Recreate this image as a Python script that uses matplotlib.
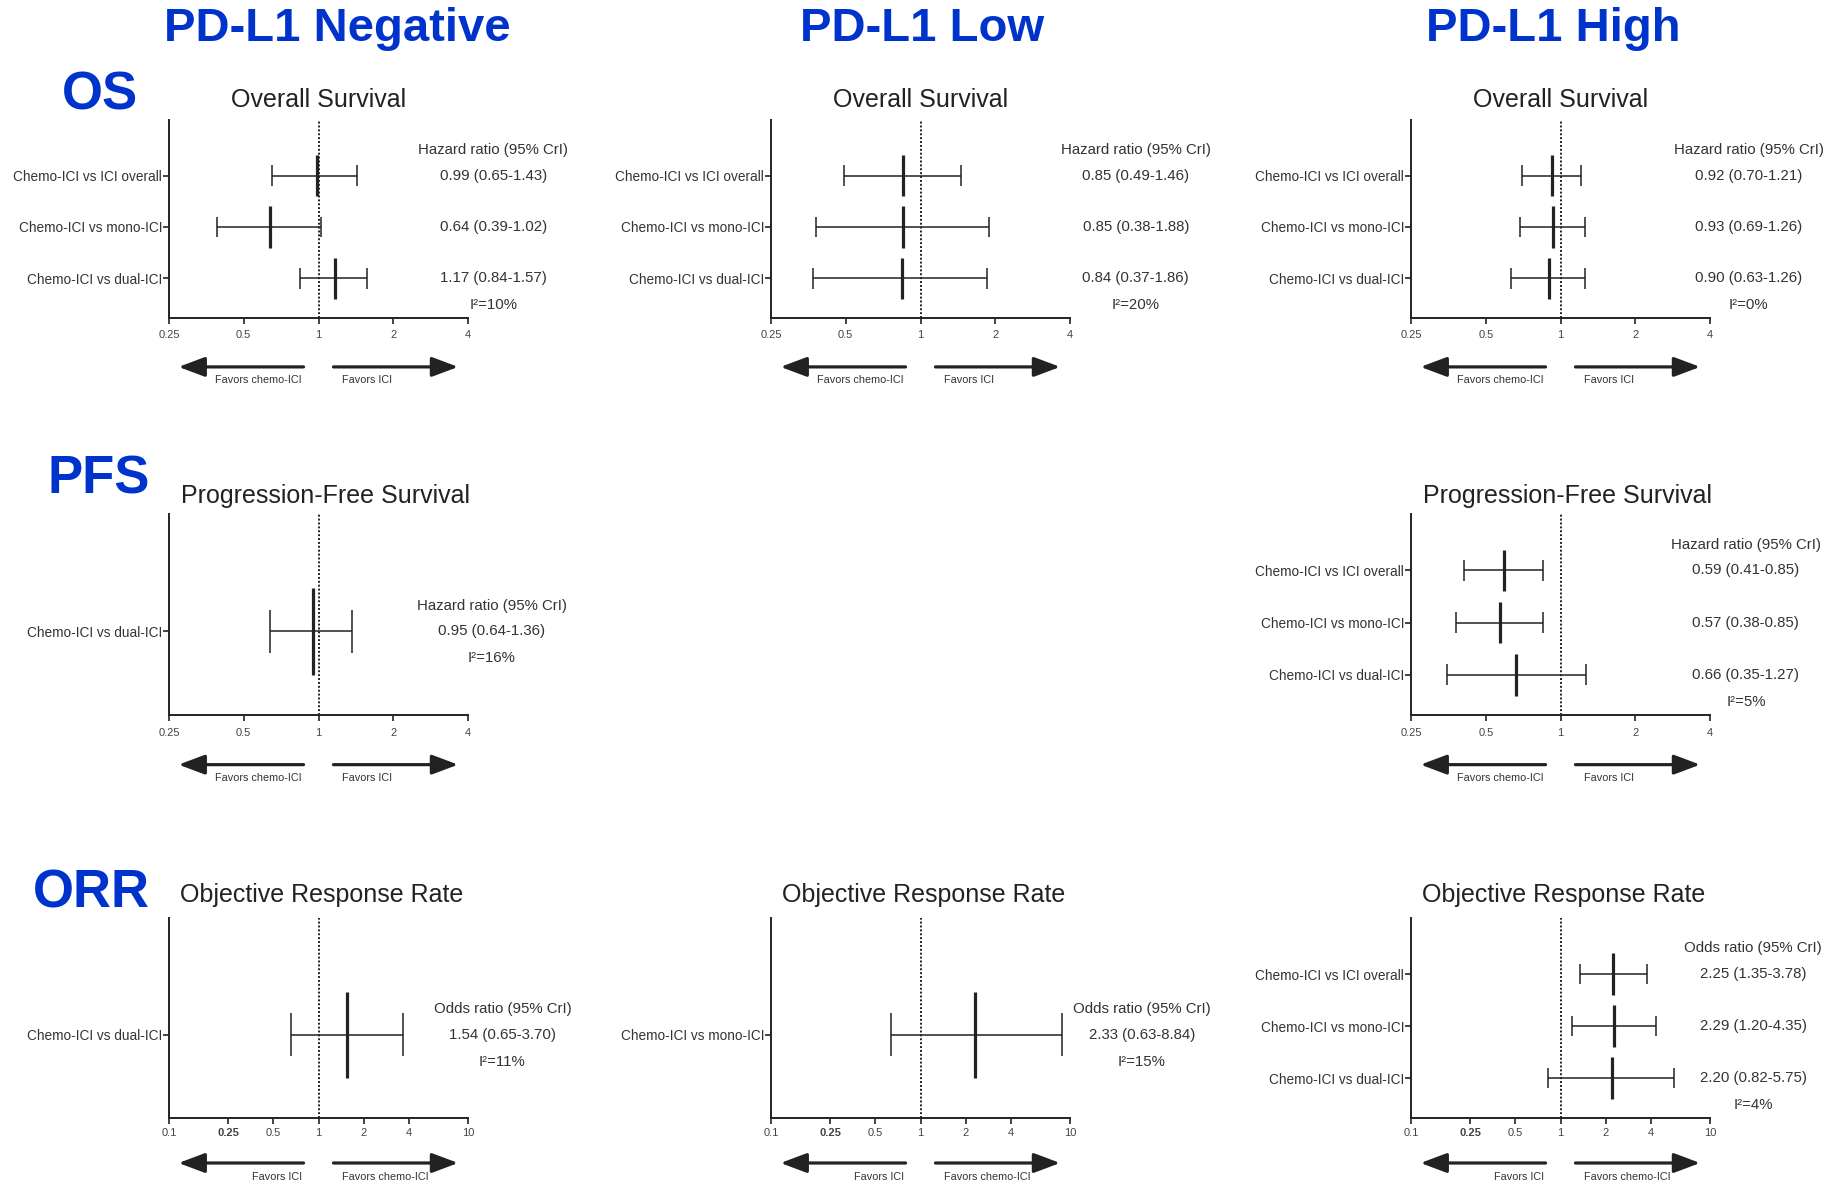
import numpy as np
import matplotlib
matplotlib.use("Agg")
import matplotlib.pyplot as plt

plt.rcParams["font.family"] = ["Liberation Sans", "DejaVu Sans"]

# comparisons
overall = "Chemo-ICI vs ICI overall"
mono = "Chemo-ICI vs mono-ICI"
dual = "Chemo-ICI vs dual-ICI"

groups = ["PD-L1 Negative", "PD-L1 Low", "PD-L1 High"]
endpoints = ["OS", "PFS", "ORR"]
titles = ["Overall Survival", "Progression-Free Survival", "Objective Response Rate"]

# overall survival (hazard ratios)
os_neg_labels = [overall, mono, dual]
os_neg_est = [0.99, 0.64, 1.17]
os_neg_lo = [0.65, 0.39, 0.84]
os_neg_hi = [1.43, 1.02, 1.57]
os_neg_i2 = 10

os_low_labels = [overall, mono, dual]
os_low_est = [0.85, 0.85, 0.84]
os_low_lo = [0.49, 0.38, 0.37]
os_low_hi = [1.46, 1.88, 1.86]
os_low_i2 = 20

os_high_labels = [overall, mono, dual]
os_high_est = [0.92, 0.93, 0.90]
os_high_lo = [0.70, 0.69, 0.63]
os_high_hi = [1.21, 1.26, 1.26]
os_high_i2 = 0

# progression-free survival (hazard ratios)
pfs_neg_labels = [dual]
pfs_neg_est = [0.95]
pfs_neg_lo = [0.64]
pfs_neg_hi = [1.36]
pfs_neg_i2 = 16

pfs_high_labels = [overall, mono, dual]
pfs_high_est = [0.59, 0.57, 0.66]
pfs_high_lo = [0.41, 0.38, 0.35]
pfs_high_hi = [0.85, 0.85, 1.27]
pfs_high_i2 = 5

# objective response rate (odds ratios)
orr_neg_labels = [dual]
orr_neg_est = [1.54]
orr_neg_lo = [0.65]
orr_neg_hi = [3.70]
orr_neg_i2 = 11

orr_low_labels = [mono]
orr_low_est = [2.33]
orr_low_lo = [0.63]
orr_low_hi = [8.84]
orr_low_i2 = 15

orr_high_labels = [overall, mono, dual]
orr_high_est = [2.25, 2.29, 2.20]
orr_high_lo = [1.35, 1.20, 0.82]
orr_high_hi = [3.78, 4.35, 5.75]
orr_high_i2 = 4

hr_ticks = [0.25, 0.5, 1, 2, 4]
hr_ticklabels = ["0.25", "0.5", "1", "2", "4"]
or_ticks = [0.1, 0.25, 0.5, 1, 2, 4, 10]
or_ticklabels = ["0.1", "0.25", "0.5", "1", "2", "4", "10"]

ink = "#222222"
blue = "#0033cc"

W, H = 1835, 1185
fig = plt.figure(figsize=(W / 100, H / 100), dpi=100)

col_left = [169, 771, 1411]
ax_w = 299
row_top = [120, 514, 918]
ax_h = [198, 201, 200]
title_pad = [9.5, 8, 11.5]
title_x = [0.5, 0.522, 0.51]
xtick_pad = [5, 5, 3.5]


def forest(ax, labels, est, lo, hi, i2, ratio, text_x):
    rows = np.arange(len(labels))
    ax.axvline(1, color=ink, lw=1.4, ls=(0, (1, 1)), zorder=1)
    ax.hlines(rows, lo, hi, color=ink, lw=1.1, zorder=2)
    ax.vlines(lo, rows - 0.2, rows + 0.2, color=ink, lw=1.1, zorder=2)
    ax.vlines(hi, rows - 0.2, rows + 0.2, color=ink, lw=1.1, zorder=2)
    ax.vlines(est, rows - 0.4, rows + 0.4, color=ink, lw=2.3, zorder=3)
    ax.set_ylim(len(labels) - 1 + 0.77, -1.08)
    ax.set_yticks(rows)
    ax.set_yticklabels(labels, fontsize=9.8, color="#333333")

    tr = ax.get_yaxis_transform()
    for r, e, l, h in zip(rows, est, lo, hi):
        ax.text(text_x, r, f"{e:.2f} ({l:.2f}-{h:.2f})", transform=tr,
                ha="center", va="center", fontsize=10.8, color="#333333")
    ax.annotate(f"{ratio} ratio (95% CrI)", xy=(text_x, rows[0]), xycoords=tr,
                xytext=(0, 18.5), textcoords="offset points",
                ha="center", va="center", fontsize=10.8, color="#333333",
                annotation_clip=False)
    ax.annotate(f"I²={i2}%", xy=(text_x, rows[-1]), xycoords=tr,
                xytext=(0, -19.5), textcoords="offset points",
                ha="center", va="center", fontsize=10.8, color="#333333",
                annotation_clip=False)

    for s in ["top", "right"]:
        ax.spines[s].set_visible(False)
    for s in ["left", "bottom"]:
        ax.spines[s].set_linewidth(1.4)
        ax.spines[s].set_color(ink)
    ax.tick_params(axis="y", length=4, width=1.2, color=ink, pad=1)
    ax.tick_params(axis="x", length=4, width=1.2, color=ink,
                   labelsize=8, labelcolor="#444444")


def favors(ax, left_txt, right_txt, y):
    style = "-|>,head_length=1.6,head_width=0.6"
    for tail, tip in [(0.45, 0.032), (0.55, 0.967)]:
        ax.annotate("", xy=(tip, y), xytext=(tail, y), xycoords="axes fraction",
                    arrowprops=dict(arrowstyle=style, lw=2.3, color=ink,
                                    shrinkA=0, shrinkB=0, mutation_scale=10),
                    annotation_clip=False)
    ax.text(0.445, y - 0.068, left_txt, transform=ax.transAxes,
            ha="right", va="center", fontsize=7.8, color="#333333")
    ax.text(0.58, y - 0.068, right_txt, transform=ax.transAxes,
            ha="left", va="center", fontsize=7.8, color="#333333")


panels = [
    (0, 0, os_neg_labels, os_neg_est, os_neg_lo, os_neg_hi, os_neg_i2, 1.085),
    (0, 1, os_low_labels, os_low_est, os_low_lo, os_low_hi, os_low_i2, 1.22),
    (0, 2, os_high_labels, os_high_est, os_high_lo, os_high_hi, os_high_i2, 1.13),
    (1, 0, pfs_neg_labels, pfs_neg_est, pfs_neg_lo, pfs_neg_hi, pfs_neg_i2, 1.08),
    (1, 2, pfs_high_labels, pfs_high_est, pfs_high_lo, pfs_high_hi, pfs_high_i2, 1.12),
    (2, 0, orr_neg_labels, orr_neg_est, orr_neg_lo, orr_neg_hi, orr_neg_i2, 1.115),
    (2, 1, orr_low_labels, orr_low_est, orr_low_lo, orr_low_hi, orr_low_i2, 1.24),
    (2, 2, orr_high_labels, orr_high_est, orr_high_lo, orr_high_hi, orr_high_i2, 1.145),
]

for r, c, labels, est, lo, hi, i2, tx in panels:
    left = col_left[c]
    top = row_top[r]
    h = ax_h[r]
    ax = fig.add_axes([left / W, 1 - (top + h) / H, ax_w / W, h / H])
    if r < 2:
        ax.set_xscale("log", base=2)
        ax.set_xlim(0.25, 4)
        ax.set_xticks(hr_ticks)
        ax.set_xticklabels(hr_ticklabels)
        ax.xaxis.set_minor_locator(matplotlib.ticker.NullLocator())
        forest(ax, labels, est, lo, hi, i2, "Hazard", tx)
        favors(ax, "Favors chemo-ICI", "Favors ICI", -0.247)
    else:
        ax.set_xscale("log")
        ax.set_xlim(0.1, 10)
        ax.set_xticks(or_ticks)
        ax.set_xticklabels(or_ticklabels)
        ax.xaxis.set_minor_locator(matplotlib.ticker.NullLocator())
        ax.get_xticklabels()[1].set_fontweight("bold")
        forest(ax, labels, est, lo, hi, i2, "Odds", tx)
        favors(ax, "Favors ICI", "Favors chemo-ICI", -0.225)
    ax.tick_params(axis="x", pad=xtick_pad[r])
    ax.set_title(titles[r], fontsize=18, color="#222222", pad=title_pad[r],
                 x=title_x[r])

# column headers and endpoint labels
for x, g in zip([337, 922, 1553], groups):
    fig.text(x / W, 1 - 29 / H, g, ha="center", va="center",
             fontsize=34, fontweight="bold", color=blue)
for (x, y), e in zip([(100, 95), (99, 480), (91, 894)], endpoints):
    fig.text(x / W, 1 - y / H, e, ha="center", va="center",
             fontsize=38, fontweight="bold", color=blue)

fig.savefig("out.png", dpi=100, facecolor="white")
